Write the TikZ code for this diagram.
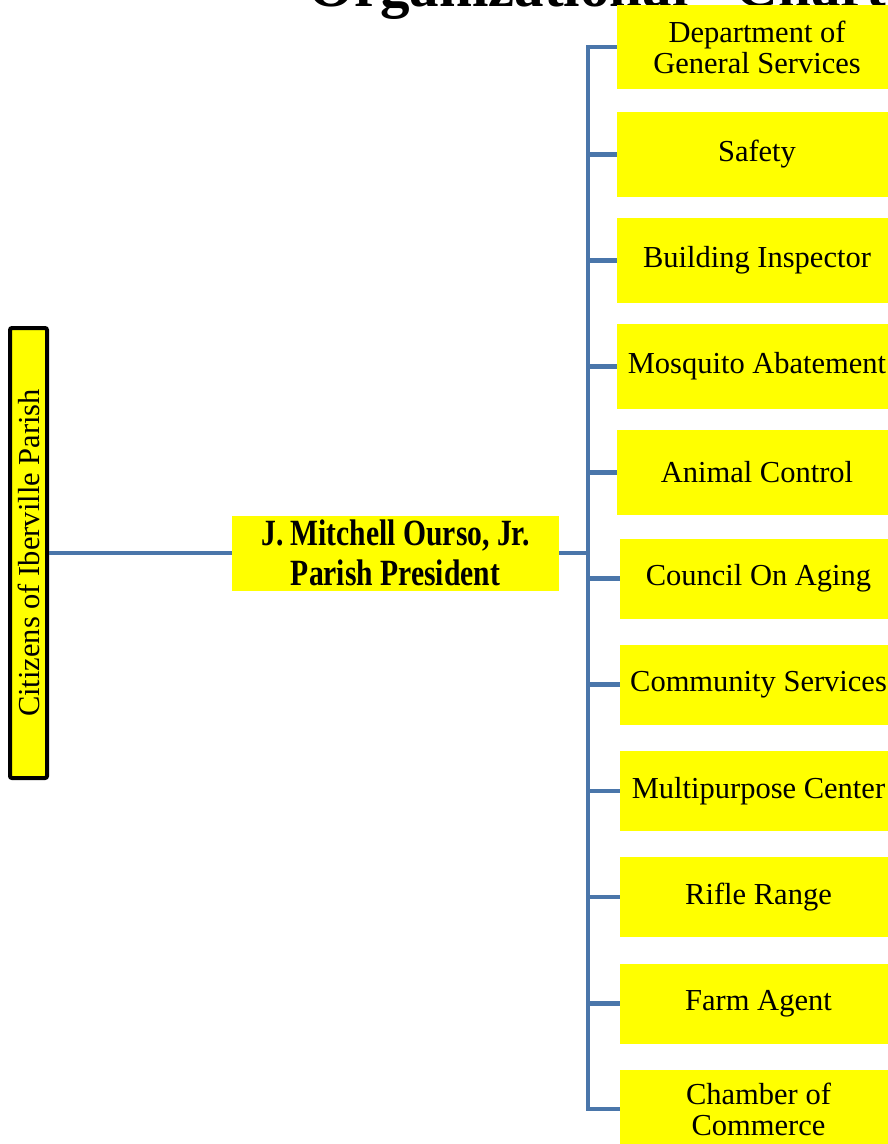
\documentclass[tikz,border=0pt]{standalone}
\usepackage{fontspec}
\setmainfont{Liberation Serif}
\newfontfamily\presfont[FakeStretch=0.8]{Liberation Serif}
\definecolor{linkblue}{RGB}{74,118,170}
\definecolor{boxyellow}{RGB}{255,255,0}

\begin{document}
\begin{tikzpicture}[x=1pt,y=-1pt,inner sep=0pt,
  unit/.style={fill=boxyellow,minimum width=280pt,minimum height=85pt,align=center,font=\fontsize{30.5}{31}\selectfont},
  link/.style={draw=linkblue,line width=4.5pt}]
\useasboundingbox (0,0) rectangle (888,1144);
\node at (308,6) [anchor=base west,font=\bfseries\fontsize{59}{59}\selectfont] (Title) {Organizational\hspace{0.8em}Chart};
\node at (28.5,553) [rotate=90,draw=black,line width=4pt,rounded corners=2pt,fill=boxyellow,minimum width=450pt,minimum height=37pt,font=\fontsize{30.5}{31}\selectfont] (Citizens) {Citizens of Iberville Parish};
\node at (395.5,553) [fill=boxyellow,minimum width=327pt,minimum height=75pt,align=center,font=\presfont\bfseries\fontsize{37}{40}\selectfont] (President) {J. Mitchell Ourso, Jr.\\Parish President};
\node at (757,47) [unit,minimum height=84pt] (Dept1) {Department of\\General Services};
\node at (757,154.5) [unit] (Dept2) {Safety};
\node at (757,260.5) [unit] (Dept3) {Building Inspector};
\node at (757,366.5) [unit] (Dept4) {Mosquito Abatement};
\node at (757,472.5) [unit] (Dept5) {Animal Control};
\node at (758.5,578.5) [unit,minimum width=277pt,minimum height=80pt] (Dept6) {Council On Aging};
\node at (758.5,684.5) [unit,minimum width=277pt,minimum height=80pt] (Dept7) {Community Services};
\node at (758.5,791) [unit,minimum width=277pt,minimum height=80pt] (Dept8) {Multipurpose Center};
\node at (758.5,897) [unit,minimum width=277pt,minimum height=80pt] (Dept9) {Rifle Range};
\node at (758.5,1003.5) [unit,minimum width=277pt,minimum height=80pt] (Dept10) {Farm Agent};
\node at (758.5,1109) [unit,minimum width=277pt,minimum height=78pt] (Dept11) {Chamber of\\Commerce};
\coordinate (Bus) at (588,553);
\draw[link] (Citizens.south) -- (President.west);
\draw[link] (President.east) -- (Bus);
\draw[link] (Dept1.west) -| (Bus) |- (Dept11.west);
\draw[link] (Bus |- Dept2.west) -- (Dept2.west);
\draw[link] (Bus |- Dept3.west) -- (Dept3.west);
\draw[link] (Bus |- Dept4.west) -- (Dept4.west);
\draw[link] (Bus |- Dept5.west) -- (Dept5.west);
\draw[link] (Bus |- Dept6.west) -- (Dept6.west);
\draw[link] (Bus |- Dept7.west) -- (Dept7.west);
\draw[link] (Bus |- Dept8.west) -- (Dept8.west);
\draw[link] (Bus |- Dept9.west) -- (Dept9.west);
\draw[link] (Bus |- Dept10.west) -- (Dept10.west);
\end{tikzpicture}
\end{document}
